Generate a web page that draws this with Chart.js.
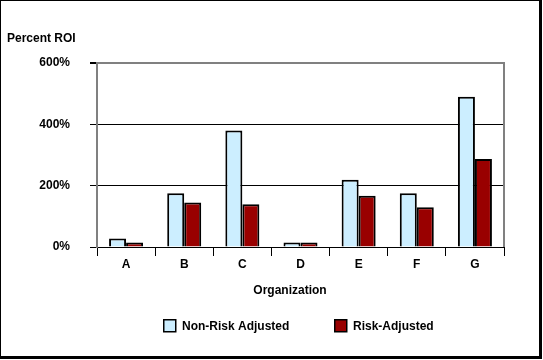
<!DOCTYPE html>
<html>
<head>
<meta charset="utf-8">
<script src="https://cdn.jsdelivr.net/npm/chart.js@4/dist/chart.umd.min.js"></script>
<style>
  html, body { margin: 0; padding: 0; background: #fff; }
  #wrap { position: absolute; left: 0; top: 0; width: 543px; height: 360px; }
</style>
</head>
<body>
<div id="wrap"><canvas id="c" width="543" height="360"></canvas></div>
<script>
const categories = ['A', 'B', 'C', 'D', 'E', 'F', 'G'];
const nonRiskAdjusted = [28, 175, 380, 15, 219, 175, 490];
const riskAdjusted = [15, 145, 139, 15, 167, 130, 287];
const seriesNames = ['Non-Risk Adjusted', 'Risk-Adjusted'];
const yTickValues = [0, 200, 400, 600];
const yAxisTitle = 'Percent ROI';
const xAxisTitle = 'Organization';

const FONT = '"Liberation Sans", Arial, sans-serif';

const decor = {
  id: 'decor',
  beforeDatasetsDraw(chart) {
    const ctx = chart.ctx, a = chart.chartArea;
    ctx.save();
    ctx.strokeStyle = '#808080';
    ctx.lineWidth = 2;
    ctx.beginPath();
    ctx.moveTo(a.right, a.top - 1);
    ctx.lineTo(a.right, a.bottom);
    ctx.stroke();
    ctx.restore();
  },
  afterDraw(chart) {
    const ctx = chart.ctx;
    ctx.save();
    ctx.fillStyle = '#000';
    ctx.font = 'bold 12px ' + FONT;
    ctx.textBaseline = 'alphabetic';
    ctx.textAlign = 'left';
    ctx.fillText(yAxisTitle, 7, 42);
    ctx.textAlign = 'center';
    ctx.fillText(xAxisTitle, 290, 294);
    // legend
    const items = [
      { x: 163, ds: chart.data.datasets[0] },
      { x: 334, ds: chart.data.datasets[1] }
    ];
    ctx.textAlign = 'left';
    items.forEach(it => {
      ctx.fillStyle = it.ds.backgroundColor;
      ctx.fillRect(it.x, 319, 13, 13);
      ctx.strokeStyle = '#000';
      ctx.lineWidth = 1.5;
      ctx.strokeRect(it.x + 0.75, 319.75, 12, 12);
      ctx.fillStyle = '#000';
      ctx.fillText(it.ds.label, it.x + 19, 330);
    });
    // frame
    ctx.fillStyle = '#000';
    ctx.fillRect(0, 0, 541, 1);
    ctx.fillRect(0, 0, 1, 358);
    ctx.fillRect(539, 0, 3, 359);
    ctx.fillRect(0, 356, 542, 3);
    ctx.restore();
  }
};

new Chart(document.getElementById('c'), {
  type: 'bar',
  data: {
    labels: categories,
    datasets: [
      { label: seriesNames[0], data: nonRiskAdjusted, backgroundColor: '#CCEEFF', borderColor: '#000', borderWidth: 2 },
      { label: seriesNames[1], data: riskAdjusted, backgroundColor: '#990000', borderColor: '#000', borderWidth: 2 }
    ]
  },
  options: {
    responsive: false,
    animation: false,
    devicePixelRatio: 1,
    layout: { padding: { left: 0, right: 39, top: 63, bottom: 0 } },
    datasets: { bar: { categoryPercentage: 0.585, barPercentage: 1.0 } },
    plugins: { legend: { display: false }, tooltip: { enabled: false } },
    scales: {
      x: {
        afterFit(s) { s.height = 113; },
        grid: { drawOnChartArea: false, drawTicks: true, tickLength: 9, color: '#000', lineWidth: 1, offset: true },
        border: { display: true, color: '#000', width: 1 },
        ticks: { color: '#000', font: { family: FONT, size: 12, weight: 'bold' }, padding: 1 }
      },
      y: {
        min: 0, max: 600,
        afterFit(s) { s.width = 97; },
        afterBuildTicks(s) { s.ticks = yTickValues.map(v => ({ value: v })); },
        grid: {
          color: c => (c.tick && c.tick.value === 600) ? '#808080' : '#000',
          lineWidth: c => (c.tick && c.tick.value === 600) ? 2 : 1,
          tickColor: '#000',
          tickLength: 7,
          drawTicks: true
        },
        border: { display: true, color: '#808080', width: 2 },
        ticks: {
          color: '#000',
          font: { family: FONT, size: 12, weight: 'bold' },
          padding: 20,
          callback: v => v + '%'
        }
      }
    }
  },
  plugins: [decor]
});
</script>
</body>
</html>
